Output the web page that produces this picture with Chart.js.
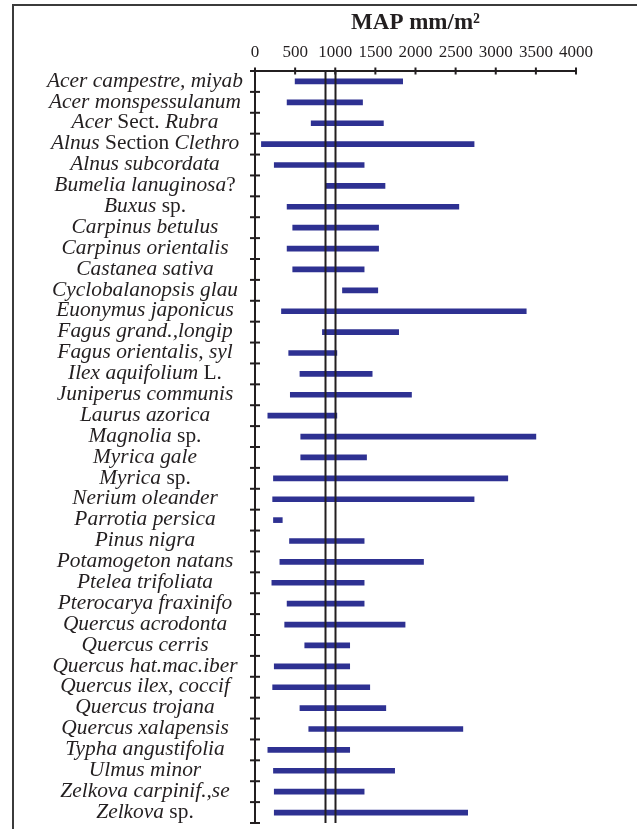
<!DOCTYPE html>
<html>
<head>
<meta charset="utf-8">
<script src="https://cdn.jsdelivr.net/npm/chart.js@4.4.1/dist/chart.umd.min.js"></script>
<style>
  html, body { margin: 0; padding: 0; background: #ffffff; }
  #wrap { position: relative; width: 637px; height: 829px; }
  #frame {
    position: absolute; left: 12px; top: 4px; right: 0; bottom: 0;
    border-top: 2px solid #3b3b3b; border-left: 2px solid #3b3b3b;
    pointer-events: none;
  }
  canvas { display: block; }
</style>
</head>
<body>
<div id="wrap">
  <canvas id="chart" width="637" height="829"></canvas>
  <div id="frame"></div>
</div>
<script>
// Taxa and their mean annual precipitation ranges (mm)
const categories = [
  "Acer campestre, miyab", "Acer monspessulanum", "Acer Sect. Rubra",
  "Alnus Section Clethro", "Alnus subcordata", "Bumelia lanuginosa?",
  "Buxus sp.", "Carpinus betulus", "Carpinus orientalis", "Castanea sativa",
  "Cyclobalanopsis glau", "Euonymus japonicus", "Fagus grand.,longip",
  "Fagus orientalis, syl", "Ilex aquifolium L.", "Juniperus communis",
  "Laurus azorica", "Magnolia sp.", "Myrica gale", "Myrica sp.",
  "Nerium oleander", "Parrotia persica", "Pinus nigra", "Potamogeton natans",
  "Ptelea trifoliata", "Pterocarya fraxinifo", "Quercus acrodonta",
  "Quercus cerris", "Quercus hat.mac.iber", "Quercus ilex, coccif",
  "Quercus trojana", "Quercus xalapensis", "Typha angustifolia",
  "Ulmus minor", "Zelkova carpinif.,se", "Zelkova sp."
];
const mapLow = [
  500, 400, 700, 80, 240, 880, 400, 470, 400, 470,
  1090, 330, 840, 420, 560, 440, 160, 570, 570, 230,
  220, 230, 430, 310, 210, 400, 370, 620, 240, 220,
  560, 670, 160, 230, 240, 240
];
const mapHigh = [
  1840, 1340, 1600, 2730, 1360, 1620, 2540, 1540, 1540, 1360,
  1530, 3380, 1790, 1020, 1460, 1950, 1020, 3500, 1390, 3150,
  2730, 340, 1360, 2100, 1360, 1360, 1870, 1180, 1180, 1430,
  1630, 2590, 1180, 1740, 1360, 2650
];
const xTickValues = [0, 500, 1000, 1500, 2000, 2500, 3000, 3500, 4000];
const referenceLines = [870, 1000];
const axisTitle = "MAP mm/m²";
// words printed upright inside otherwise italic taxon names
const uprightWords = ["Sect.", "Section", "sp.", "L."];

const INK = "#231f20";
const SERIF = '"Liberation Serif", "Times New Roman", serif';
const LABEL_SIZE = 20;
const LABEL_STRETCH = 1.07;
const LABEL_CENTER_X = 145;

function labelSegments(label) {
  const segs = [];
  const words = label.split(" ");
  words.forEach((w, i) => {
    const sep = i < words.length - 1 ? " " : "";
    if (uprightWords.includes(w)) {
      segs.push({ t: w + sep, it: false });
    } else if (w.endsWith("?")) {
      segs.push({ t: w.slice(0, -1), it: true });
      segs.push({ t: "?" + sep, it: false });
    } else {
      segs.push({ t: w + sep, it: true });
    }
  });
  return segs;
}

const decorPlugin = {
  id: "axisDecor",
  afterDatasetsDraw(chart) {
    const { ctx, chartArea, scales } = chart;
    const xs = scales.x, ys = scales.y;
    ctx.save();
    ctx.strokeStyle = INK;
    ctx.lineWidth = 2;
    // reference precipitation lines
    referenceLines.forEach(v => {
      const x = Math.round(xs.getPixelForValue(v)) + 0.5;
      ctx.beginPath();
      ctx.moveTo(x, chartArea.top);
      ctx.lineTo(x, chartArea.bottom);
      ctx.stroke();
    });
    // cross ticks on the top axis
    xTickValues.forEach(v => {
      const x = xs.getPixelForValue(v);
      ctx.beginPath();
      ctx.moveTo(x, chartArea.top - 3.5);
      ctx.lineTo(x, chartArea.top + 3.5);
      ctx.stroke();
    });
    // cross ticks between categories on the left axis
    for (let i = 0; i <= categories.length; i++) {
      const y = ys.getPixelForValue(i - 0.5);
      ctx.beginPath();
      ctx.moveTo(chartArea.left - 5, y);
      ctx.lineTo(chartArea.left + 5, y);
      ctx.stroke();
    }
    // taxon labels, mixing italic and upright text
    ctx.fillStyle = INK;
    ctx.textBaseline = "middle";
    ctx.textAlign = "left";
    const italicFont = "italic " + LABEL_SIZE + "px " + SERIF;
    const romanFont = LABEL_SIZE + "px " + SERIF;
    categories.forEach((label, i) => {
      const y = ys.getPixelForValue(i);
      const segs = labelSegments(label);
      let total = 0;
      segs.forEach(s => {
        ctx.font = s.it ? italicFont : romanFont;
        s.w = ctx.measureText(s.t).width;
        total += s.w;
      });
      ctx.save();
      ctx.translate(LABEL_CENTER_X, y);
      ctx.scale(LABEL_STRETCH, 1);
      let x = -total / 2;
      segs.forEach(s => {
        ctx.font = s.it ? italicFont : romanFont;
        ctx.fillText(s.t, x, 0);
        x += s.w;
      });
      ctx.restore();
    });
    ctx.restore();
  }
};

new Chart(document.getElementById("chart"), {
  type: "bar",
  data: {
    labels: categories,
    datasets: [{
      data: categories.map((c, i) => [mapLow[i], mapHigh[i]]),
      backgroundColor: "#2e3192",
      borderWidth: 0,
      barThickness: 5
    }]
  },
  options: {
    indexAxis: "y",
    responsive: false,
    animation: false,
    layout: { padding: { left: 0, right: 61, top: 0, bottom: 6 } },
    plugins: { legend: { display: false }, tooltip: { enabled: false } },
    scales: {
      x: {
        position: "top",
        min: 0,
        max: 4000,
        afterBuildTicks: s => { s.ticks = xTickValues.map(v => ({ value: v })); },
        afterFit: s => { s.height = 71; },
        ticks: {
          autoSkip: false,
          maxRotation: 0,
          padding: 8,
          color: INK,
          font: { family: SERIF, size: 17 },
          callback: v => String(v)
        },
        grid: { display: true, drawOnChartArea: false, drawTicks: false },
        border: { display: true, color: INK, width: 2 },
        title: {
          display: true,
          text: axisTitle,
          color: INK,
          font: { family: SERIF, size: 23, weight: "bold" },
          padding: { top: 9, bottom: 0 }
        }
      },
      y: {
        type: "category",
        offset: true,
        afterFit: s => { s.width = 255; },
        ticks: { display: false },
        grid: { display: true, drawOnChartArea: false, drawTicks: false },
        border: { display: true, color: INK, width: 2 }
      }
    }
  },
  plugins: [decorPlugin]
});
</script>
</body>
</html>
